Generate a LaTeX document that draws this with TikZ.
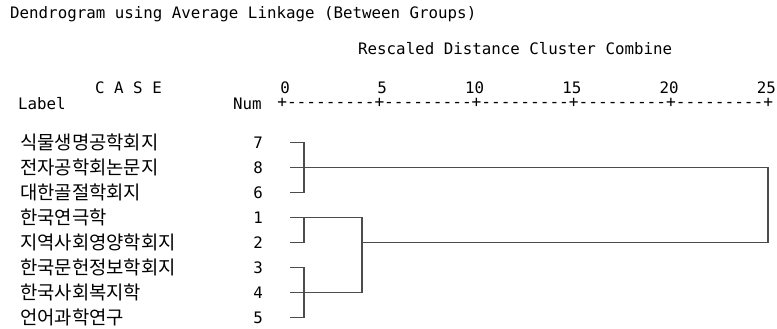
\documentclass[tikz,border=0pt]{standalone}
\usepackage{fontspec}
\setmonofont{DejaVu Sans Mono}
\newfontfamily\krfont{Noto Sans CJK KR}
\usetikzlibrary{positioning}

\begin{document}
\begin{tikzpicture}[x=1pt,y=-1pt,
    txt/.style={font=\ttfamily\fontsize{15.8}{18}\selectfont,inner sep=0pt,anchor=base west},
    lbl/.style={font=\krfont\fontsize{18.8}{20}\selectfont,inner sep=0pt,anchor=west},
    num/.style={font=\ttfamily\fontsize{15.8}{18}\selectfont,inner sep=0pt,anchor=east},
    tick/.style={num,anchor=base east},
    link/.style={draw=black!70,line width=1.2pt}]
  \useasboundingbox (0,0) rectangle (777,329);
  % headings
  \node[txt] (title) at (10,19) {Dendrogram using Average Linkage (Between Groups)};
  \node[txt] (scale) at (358,55) {Rescaled Distance Cluster Combine};
  \node[txt] (case) at (95,93) {C A S E};
  \node[txt] (label) at (18,110) {Label};
  \node[txt] (numhead) at (233,110) {Num};
  \node[txt,font=\ttfamily\fontsize{16.15}{18}\selectfont,text height=8pt] (axis) at (277.1,107)
    {+---------+---------+---------+---------+---------+};
  \node[tick] (t0) at (290,93) {0};
  \node[tick] (t5) at (387.2,93) {5};
  \node[tick] (t10) at (484.4,93) {10};
  \node[tick] (t15) at (581.6,93) {15};
  \node[tick] (t20) at (678.8,93) {20};
  \node[tick] (t25) at (776,93) {25};
  % cases
  \node[lbl] (l7) at (20,142.5) {식물생명공학회지};
  \node[lbl] (l8) at (20,167.5) {전자공학회논문지};
  \node[lbl] (l6) at (20,192.5) {대한골절학회지};
  \node[lbl] (l1) at (20,217.5) {한국연극학};
  \node[lbl] (l2) at (20,242.5) {지역사회영양학회지};
  \node[lbl] (l3) at (20,267.5) {한국문헌정보학회지};
  \node[lbl] (l4) at (20,292.5) {한국사회복지학};
  \node[lbl] (l5) at (20,317.5) {언어과학연구};
  \node[num] (n7) at (263,142.5) {7};
  \node[num] (n8) at (263,167.5) {8};
  \node[num] (n6) at (263,192.5) {6};
  \node[num] (n1) at (263,217.5) {1};
  \node[num] (n2) at (263,242.5) {2};
  \node[num] (n3) at (263,267.5) {3};
  \node[num] (n4) at (263,292.5) {4};
  \node[num] (n5) at (263,317.5) {5};
  % tree
  \coordinate (s7) at ([xshift=27pt]n7.east);
  \coordinate (s8) at ([xshift=27pt]n8.east);
  \coordinate (s6) at ([xshift=27pt]n6.east);
  \coordinate (s1) at ([xshift=27pt]n1.east);
  \coordinate (s2) at ([xshift=27pt]n2.east);
  \coordinate (s3) at ([xshift=27pt]n3.east);
  \coordinate (s4) at ([xshift=27pt]n4.east);
  \coordinate (s5) at ([xshift=27pt]n5.east);
  \coordinate (lv1) at (304,0);
  \coordinate (lv2) at (362,0);
  \coordinate (lv3) at (768,0);
  \draw[link] (s7) -| (lv1 |- s6) -- (s6);
  \draw[link] (s8) -| (lv3 |- s2) -- (lv2 |- s2);
  \draw[link] (s2) -| (lv1 |- s1);
  \draw[link] (s1) -| (lv2 |- s4) -- (s4);
  \draw[link] (s3) -| (lv1 |- s5) -- (s5);
\end{tikzpicture}
\end{document}
